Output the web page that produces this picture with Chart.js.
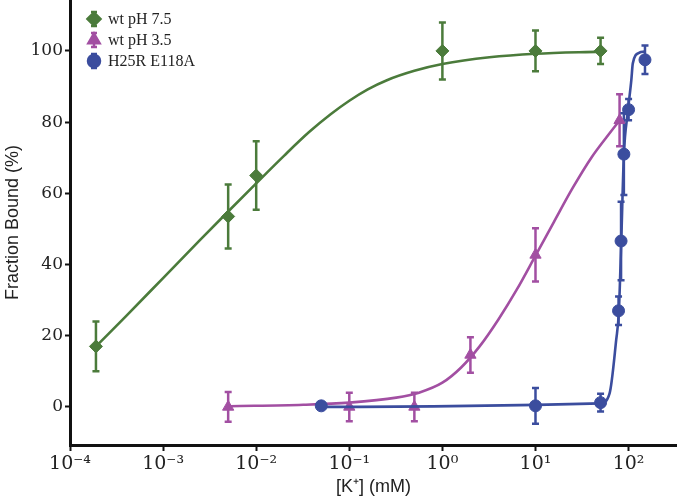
<!DOCTYPE html>
<html>
<head>
<meta charset="utf-8">
<script src="https://cdn.jsdelivr.net/npm/chart.js@4"></script>
<style>
  body { margin: 0; background: #fff; }
  canvas { display: block; }
</style>
</head>
<body>
<canvas id="chart" width="677" height="498"></canvas>
<script>
// axis ticks
const tickExps = [-4, -3, -2, -1, 0, 1, 2];
const yTicks = [0, 20, 40, 60, 80, 100];

const ph75Conc = [1.9e-4, 5e-3, 1e-2, 1, 10, 50];
const ph75Bound = [17, 53.5, 65, 100, 100, 100];
const ph75Err = [7, 9, 9.6, 8, 5.7, 3.7];
const ph75FitConc = [1.9e-4, 4e-4, 1e-3, 2.5e-3, 5e-3, 1e-2, 2e-2, 3.7e-2,
  6.3e-2, 0.1, 0.158, 0.25, 0.5, 1, 3.2, 10, 50];
const ph75FitBound = [17, 25.5, 36.2, 46.9, 54.9, 62.8, 70.6, 77.2,
  82.2, 86, 89.2, 91.7, 94.4, 96.3, 98.2, 99.2, 99.8];

// wt pH 3.5
const ph35Conc = [5e-3, 0.1, 0.5, 2, 10, 80];
const ph35Bound = [0, 0, 0, 14.6, 42.7, 80.5];
const ph35Err = [4.2, 4, 4, 5, 7.5, 7.3];
const ph35FitConc = [5.2e-3, 3.2e-2, 0.1, 0.32, 0.56, 1, 1.58, 2.51, 3.98, 6.31,
  10, 15.8, 25.1, 39.8, 63.1, 83];
const ph35FitBound = [0.2, 0.6, 1.2, 2.6, 4.0, 6.8, 11, 17, 24.5, 33,
  42.5, 52, 61.5, 70, 77, 81];

// H25R E118A
const mutConc = [0.05, 10, 50, 78, 83, 89, 100, 150];
const mutBound = [0.3, 0.3, 1.2, 27, 46.6, 71, 83.5, 97.5];
const mutErr = [0.8, 5, 2.5, 4, 11, 11.5, 3, 4];
const mutFitConc = [0.05, 50, 62.5, 73.6, 78.7, 83.4, 89.1, 97.7, 107, 111, 131, 148];
const mutFitBound = [0, 1, 3.8, 18.8, 27, 46.6, 71, 82.5, 91.8, 96.5, 99.5, 99.8];

const groups = [
  { label: "H25R E118A", color: "#3b4d9e", style: "circle", radius: 6,
    conc: mutConc, bound: mutBound, err: mutErr, fitConc: mutFitConc, fitBound: mutFitBound },
  { label: "wt pH 3.5", color: "#a24fa2", style: "triangle", radius: 6.5,
    conc: ph35Conc, bound: ph35Bound, err: ph35Err, fitConc: ph35FitConc, fitBound: ph35FitBound },
  { label: "wt pH 7.5", color: "#4b7b3b", style: "rectRot", radius: 6.5,
    conc: ph75Conc, bound: ph75Bound, err: ph75Err, fitConc: ph75FitConc, fitBound: ph75FitBound },
];
const legendOrder = ["wt pH 7.5", "wt pH 3.5", "H25R E118A"];

const toPts = (xs, ys) => xs.map((x, i) => ({ x: x, y: ys[i] }));
const sup = { "-": "\u207B", "0": "\u2070", "1": "\u00B9", "2": "\u00B2", "3": "\u00B3", "4": "\u2074" };

let datasets = [];
for (const g of groups) {
  datasets.push({
    label: g.label,
    data: toPts(g.conc, g.bound),
    showLine: false,
    pointStyle: g.style,
    pointRadius: g.radius,
    pointBackgroundColor: g.color,
    pointBorderColor: g.color,
    pointBorderWidth: 1,
    errors: g.err,
    clip: false
  });
  datasets.push({
    label: g.label + " fit",
    data: toPts(g.fitConc, g.fitBound),
    showLine: true,
    borderColor: g.color,
    borderWidth: 2.6,
    pointRadius: 0,
    cubicInterpolationMode: "monotone",
    fill: false,
    clip: false
  });
}

const errorBars = {
  id: "errorBars",
  beforeDatasetsDraw(chart) {
    const ctx = chart.ctx, xs = chart.scales.x, ys = chart.scales.y;
    ctx.save();
    for (let d = chart.data.datasets.length - 1; d >= 0; d--) {
      const ds = chart.data.datasets[d];
      if (!ds.errors) continue;
      ctx.strokeStyle = ds.pointBackgroundColor;
      ctx.lineWidth = 2.5;
      ds.data.forEach((p, i) => {
        const x = xs.getPixelForValue(p.x);
        const y1 = ys.getPixelForValue(p.y - ds.errors[i]);
        const y2 = ys.getPixelForValue(p.y + ds.errors[i]);
        ctx.beginPath();
        ctx.moveTo(x, y1); ctx.lineTo(x, y2);
        ctx.moveTo(x - 3.5, y1); ctx.lineTo(x + 3.5, y1);
        ctx.moveTo(x - 3.5, y2); ctx.lineTo(x + 3.5, y2);
        ctx.stroke();
      });
    }
    ctx.restore();
  }
};

const legendBox = {
  id: "legendBox",
  afterDraw(chart) {
    const ctx = chart.ctx;
    ctx.save();
    legendOrder.forEach((name, i) => {
      const g = groups.find(gr => gr.label === name);
      const y = 19 + i * 21, x = 94;
      ctx.strokeStyle = g.color;
      ctx.fillStyle = g.color;
      ctx.lineWidth = 2.5;
      ctx.beginPath();
      ctx.moveTo(x, y - 7); ctx.lineTo(x, y + 7);
      ctx.moveTo(x - 3, y - 7); ctx.lineTo(x + 3, y - 7);
      ctx.moveTo(x - 3, y + 7); ctx.lineTo(x + 3, y + 7);
      ctx.stroke();
      Chart.helpers.drawPoint(ctx, { pointStyle: g.style, radius: g.radius, rotation: 0, borderWidth: 1 }, x, y);
      ctx.fillStyle = "#222";
      ctx.font = '16px "Liberation Serif"';
      ctx.textBaseline = "middle";
      ctx.fillText(g.label, 108, y + 1);
    });
    ctx.restore();
  }
};

new Chart("chart", {
  type: "scatter",
  data: { datasets: datasets },
  plugins: [errorBars, legendBox],
  options: {
    responsive: false,
    animation: false,
    devicePixelRatio: 1,
    layout: { padding: 0, autoPadding: false },
    plugins: { legend: { display: false }, tooltip: { enabled: false } },
    scales: {
      x: {
        type: "logarithmic",
        min: 1e-4,
        max: Math.pow(10, 2.52),
        afterBuildTicks: (scale) => { scale.ticks = tickExps.map(e => ({ value: Math.pow(10, e) })); },
        afterFit: (scale) => { scale.height = 53; scale.paddingLeft = 0; scale.paddingRight = 0; },
        border: { display: true, color: "#111", width: 3 },
        grid: { drawOnChartArea: false, drawTicks: true, tickLength: 6, tickWidth: 2, tickColor: "#111" },
        ticks: {
          autoSkip: false, maxRotation: 0, padding: 2, color: "#222",
          font: { family: "DejaVu Serif", size: 19 },
          callback: (v) => "10" + String(Math.round(Math.log10(v))).split("").map(c => sup[c]).join("")
        },
        title: {
          display: true, text: "[K\u207A] (mM)", color: "#222", padding: 0,
          font: { family: "Liberation Sans", size: 18 }
        }
      },
      y: {
        min: -10.7,
        max: 114.3,
        afterBuildTicks: (scale) => { scale.ticks = yTicks.map(v => ({ value: v })); },
        afterFit: (scale) => { scale.width = 70; scale.paddingTop = 0; scale.paddingBottom = 0; },
        border: { display: true, color: "#111", width: 3 },
        grid: { drawOnChartArea: false, drawTicks: true, tickLength: 5, tickWidth: 2, tickColor: "#111" },
        ticks: { padding: 2, color: "#222", font: { family: "DejaVu Serif", size: 17 } },
        title: {
          display: true, text: "Fraction Bound (%)", color: "#222", padding: { top: 2, bottom: 0 },
          font: { family: "Liberation Sans", size: 18 }
        }
      }
    }
  }
});
</script>
</body>
</html>
